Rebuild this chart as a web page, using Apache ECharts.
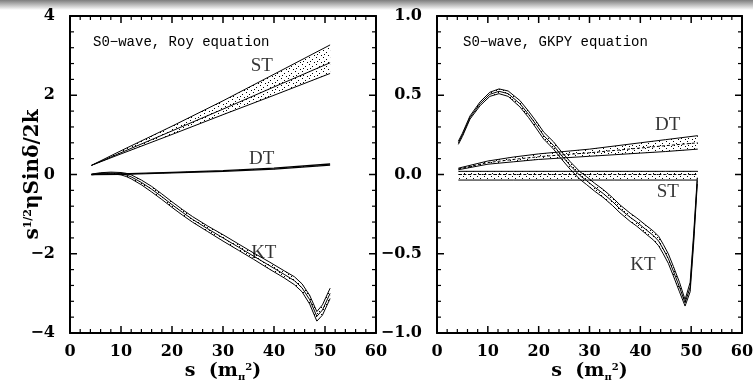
<!DOCTYPE html>
<html><head><meta charset="utf-8">
<script src="https://cdn.jsdelivr.net/npm/echarts@6/dist/echarts.min.js"></script>
<style>html,body{margin:0;padding:0;background:#fff}#c{width:753px;height:385px}</style>
</head><body><div id="c"></div>
<script>
// ---------- Left panel (Roy equation) ----------
const L_ST_s   = [4.2, 10, 20, 30, 40, 51];
const L_ST_hi  = [0.23, 0.60, 1.22, 1.86, 2.53, 3.27];
const L_ST_mid = [0.23, 0.55, 1.10, 1.65, 2.21, 2.82];
const L_ST_lo  = [0.23, 0.52, 1.01, 1.51, 2.00, 2.55];

const L_DT_s  = [4.2, 10, 15, 20, 30, 40, 51];
const L_DT_hi = [0.005, 0.015, 0.035, 0.055, 0.10, 0.16, 0.265];
const L_DT_lo = [-0.005, 0.005, 0.02, 0.04, 0.08, 0.135, 0.235];

const L_KT_s   = [4.2, 6, 8, 10, 11, 12, 14, 16, 18, 20, 22, 24, 27, 30, 33, 36, 39, 42, 44, 45.5, 47, 48.4, 49.5, 51];
const L_KT_mid = [0.0, 0.03, 0.04, 0.02, -0.01, -0.06, -0.2, -0.37, -0.56, -0.76, -0.95, -1.13, -1.37, -1.6, -1.83, -2.06, -2.29, -2.52, -2.68, -2.86, -3.16, -3.58, -3.42, -3.0];
const L_KT_hi  = [0.01, 0.045, 0.06, 0.05, 0.03, -0.01, -0.14, -0.30, -0.49, -0.69, -0.88, -1.06, -1.30, -1.52, -1.75, -1.98, -2.20, -2.43, -2.58, -2.76, -3.05, -3.46, -3.29, -2.87];
const L_KT_lo  = [-0.01, 0.015, 0.02, -0.01, -0.05, -0.11, -0.26, -0.44, -0.63, -0.83, -1.02, -1.20, -1.44, -1.68, -1.91, -2.14, -2.38, -2.61, -2.78, -2.96, -3.27, -3.70, -3.55, -3.13];

// ---------- Right panel (GKPY equation) ----------
const R_KT_s   = [4.2, 5, 6.5, 8.5, 10.4, 12.2, 14, 16.3, 18, 19.6, 21, 22.9, 24.5, 26.2, 28.1, 29.4, 31, 32.7, 34.5, 36, 38, 39.3, 41, 42.6, 43.6, 44.5, 45.5, 46.5, 47.7, 48.8, 49.8, 50.5, 51.2];
const R_KT_mid = [0.20, 0.25, 0.36, 0.447, 0.506, 0.525, 0.51, 0.447, 0.38, 0.31, 0.245, 0.184, 0.12, 0.057, -0.006, -0.038, -0.08, -0.12, -0.17, -0.217, -0.27, -0.30, -0.345, -0.386, -0.42, -0.47, -0.53, -0.61, -0.71, -0.81, -0.71, -0.40, -0.04];
const R_KT_hi  = [0.21, 0.26, 0.37, 0.459, 0.519, 0.54, 0.527, 0.467, 0.40, 0.332, 0.267, 0.207, 0.143, 0.081, 0.018, -0.013, -0.055, -0.095, -0.145, -0.192, -0.244, -0.274, -0.318, -0.358, -0.39, -0.44, -0.50, -0.58, -0.68, -0.79, -0.68, -0.37, -0.02];
const R_KT_lo  = [0.19, 0.24, 0.35, 0.435, 0.493, 0.51, 0.493, 0.427, 0.36, 0.288, 0.223, 0.161, 0.097, 0.033, -0.030, -0.063, -0.105, -0.145, -0.195, -0.242, -0.296, -0.326, -0.372, -0.414, -0.45, -0.50, -0.56, -0.64, -0.74, -0.83, -0.74, -0.43, -0.06];

const R_DT_s   = [4.2, 10, 15, 20, 25, 30, 35, 40, 45, 51.3];
const R_DT_hi  = [0.04, 0.085, 0.11, 0.13, 0.145, 0.16, 0.18, 0.20, 0.22, 0.245];
const R_DT_mid = [0.035, 0.075, 0.095, 0.112, 0.125, 0.137, 0.152, 0.167, 0.182, 0.20];
const R_DT_lo  = [0.03, 0.065, 0.08, 0.095, 0.105, 0.115, 0.125, 0.135, 0.145, 0.16];

const R_ST_s   = [4.2, 15, 25, 35, 45, 51.3];
const R_ST_hi  = [0.02, 0.02, 0.02, 0.02, 0.02, 0.02];
const R_ST_mid = [0.0, 0.0, 0.0, 0.0, 0.0, 0.0];
const R_ST_lo  = [-0.035, -0.035, -0.035, -0.035, -0.035, -0.035];

// curve labels (data coordinates)
const L_lbl_text = ['ST', 'DT', 'KT'];
const L_lbl_s    = [37.6, 37.6, 38.0];
const L_lbl_y    = [2.73, 0.38, -1.97];
const R_lbl_text = ['DT', 'ST', 'KT'];
const R_lbl_s    = [45.4, 45.4, 40.5];
const R_lbl_y    = [0.31, -0.11, -0.57];

// axes: [min, max, major interval]
const xTicks = [0, 60, 10];
const L_yTicks = [-4, 4, 2];
const R_yTicks = [-1, 1, 0.5];
const minorSplit = 5;
const panelTitles = ['S0\u2212wave, Roy equation', 'S0\u2212wave, GKPY equation'];

// ---------- build ----------
function makePattern(){
  const c = document.createElement('canvas'); c.width = 7; c.height = 7;
  const g = c.getContext('2d'); g.fillStyle = '#000';
  [[1,1],[4,3],[2,5],[6,6]].forEach(p => g.fillRect(p[0], p[1], 1, 1));
  return c;
}
const pat = makePattern();

function band(ax, s, lo, hi){
  return {
    type: 'custom', xAxisIndex: ax, yAxisIndex: ax, silent: true, animation: false, z: 1,
    data: s.map((v, i) => [v, lo[i], hi[i]]),
    renderItem: function(params, api){
      if (params.dataIndex !== 0) return;
      const pts = [];
      for (let i = 0; i < s.length; i++) pts.push(api.coord([s[i], hi[i]]));
      for (let i = s.length - 1; i >= 0; i--) pts.push(api.coord([s[i], lo[i]]));
      return {type: 'polygon', shape: {points: pts}, style: {fill: {image: pat, repeat: 'repeat'}, stroke: null}};
    }
  };
}
function line(ax, s, y, w, dash){
  return {
    type: 'line', xAxisIndex: ax, yAxisIndex: ax, silent: true, animation: false, z: 3,
    data: s.map((v, i) => [v, y[i]]), symbol: 'none', showSymbol: false,
    lineStyle: {color: '#000', width: w || 1, type: dash ? [3, 2] : 'solid'}
  };
}
function labels(ax, txt, s, y){
  return {
    type: 'scatter', xAxisIndex: ax, yAxisIndex: ax, silent: true, animation: false, z: 5,
    symbolSize: 1, itemStyle: {color: 'rgba(0,0,0,0)'},
    data: s.map((v, i) => [v, y[i]]),
    label: {show: true, position: 'inside', formatter: p => txt[p.dataIndex],
      fontFamily: 'Liberation Serif', fontSize: 19, color: '#000'}
  };
}
// inward ticks on all four frame sides, placed through the axes' own scales
function frameTicks(ax, xt, yt){
  return {
    type: 'custom', xAxisIndex: ax, yAxisIndex: ax, silent: true, animation: false, z: 10,
    data: [[xt[0], yt[0]]],
    renderItem: function(params, api){
      const ch = [];
      const add = (x1, y1, x2, y2, major) => ch.push({type: 'line', shape: {x1: x1, y1: y1, x2: x2, y2: y2},
        style: {stroke: '#000', lineWidth: major ? 1.5 : 1.2}});
      const nx = Math.round((xt[1] - xt[0]) / xt[2]) * minorSplit;
      for (let k = 0; k <= nx; k++) {
        const v = xt[0] + k * xt[2] / minorSplit, major = k % minorSplit === 0, len = major ? 7 : 4;
        const b = api.coord([v, yt[0]]), t = api.coord([v, yt[1]]);
        add(b[0], b[1], b[0], b[1] - len, major);
        add(t[0], t[1], t[0], t[1] + len, major);
      }
      const ny = Math.round((yt[1] - yt[0]) / yt[2]) * minorSplit;
      for (let k = 0; k <= ny; k++) {
        const v = yt[0] + k * yt[2] / minorSplit, major = k % minorSplit === 0, len = major ? 7 : 4;
        const l = api.coord([xt[0], v]), r = api.coord([xt[1], v]);
        add(l[0], l[1], l[0] + len, l[1], major);
        add(r[0], r[1], r[0] - len, r[1], major);
      }
      return {type: 'group', children: ch};
    }
  };
}

const tickFont = {fontFamily: 'DejaVu Serif', fontWeight: 'bold', fontSize: 16, color: '#000'};
const fmtInt = v => (v < 0 ? '\u2212' : '') + Math.abs(v);
const fmtDec = v => (v < 0 ? '\u2212' : '') + Math.abs(v).toFixed(1);

function xAx(gi, pos, show){
  return {
    type: 'value', gridIndex: gi, position: pos, min: xTicks[0], max: xTicks[1], interval: xTicks[2],
    axisLine: {show: true, onZero: false, lineStyle: {color: '#000', width: 2}},
    axisTick: {show: false}, minorTick: {show: false},
    splitLine: {show: false}, minorSplitLine: {show: false},
    axisLabel: Object.assign({show: show, margin: 11, showMinLabel: true, showMaxLabel: true}, tickFont),
    name: show ? '{b|s  (m}{sub|\u03c0}{sup|2}{b|)}' : '',
    nameLocation: 'middle', nameGap: 25, nameMoveOverlap: false,
    nameTextStyle: {color: '#000', rich: {
      b:   {fontFamily: 'DejaVu Serif', fontWeight: 'bold', fontSize: 19, lineHeight: 26, color: '#000'},
      sub: {fontFamily: 'DejaVu Serif', fontWeight: 'bold', fontSize: 10, verticalAlign: 'bottom', lineHeight: 10, color: '#000', padding: [0,0,2,0]},
      sup: {fontFamily: 'DejaVu Serif', fontWeight: 'bold', fontSize: 10, verticalAlign: 'top', lineHeight: 10, color: '#000', padding: [4,0,0,0]}
    }}
  };
}
function yAx(gi, pos, show, t, fmt, withName){
  return {
    type: 'value', gridIndex: gi, position: pos, min: t[0], max: t[1], interval: t[2],
    axisLine: {show: true, onZero: false, lineStyle: {color: '#000', width: 2}},
    axisTick: {show: false}, minorTick: {show: false},
    splitLine: {show: false}, minorSplitLine: {show: false},
    axisLabel: Object.assign({show: show, margin: 15, formatter: fmt, showMinLabel: true, showMaxLabel: true}, tickFont),
    name: withName ? '{b|s}{sup|1/2}{b|\u03b7Sin\u03b4/2k}' : '',
    nameLocation: 'middle', nameGap: 25, nameMoveOverlap: false,
    nameTextStyle: {color: '#000', rich: {
      b:   {fontFamily: 'DejaVu Serif', fontWeight: 'bold', fontSize: 20, lineHeight: 24, color: '#000'},
      sup: {fontFamily: 'DejaVu Serif', fontWeight: 'bold', fontSize: 11, verticalAlign: 'top', lineHeight: 11, color: '#000', padding: [2,0,0,0]}
    }}
  };
}

const chart = echarts.init(document.getElementById('c'), null, {renderer: 'canvas'});
chart.setOption({
  backgroundColor: '#fff',
  animation: false,
  grid: [
    {left: 70, top: 16, width: 306, height: 317, outerBoundsMode: 'none'},
    {left: 437, top: 16, width: 305, height: 317, outerBoundsMode: 'none'}
  ],
  // per grid: bottom/top x axes, left/right y axes (indices 0,1 -> grid 0; 2,3 -> grid 1)
  xAxis: [xAx(0, 'bottom', true), xAx(0, 'top', false), xAx(1, 'bottom', true), xAx(1, 'top', false)],
  yAxis: [yAx(0, 'left', true, L_yTicks, fmtInt, true), yAx(0, 'right', false, L_yTicks, fmtInt, false),
          yAx(1, 'left', true, R_yTicks, fmtDec, false), yAx(1, 'right', false, R_yTicks, fmtDec, false)],
  graphic: [
    {type: 'rect', shape: {x: 0, y: 0, width: 753, height: 10}, silent: true,
     style: {fill: new echarts.graphic.LinearGradient(0, 0, 0, 1, [{offset: 0, color: '#7d7d7d'}, {offset: 1, color: '#ffffff'}])}},
    {type: 'text', x: 93, y: 42, silent: true, style: {text: panelTitles[0], font: '14px "Liberation Mono"', fill: '#000', verticalAlign: 'middle'}},
    {type: 'text', x: 463, y: 42, silent: true, style: {text: panelTitles[1], font: '14px "Liberation Mono"', fill: '#000', verticalAlign: 'middle'}}
  ],
  series: [
    band(0, L_ST_s, L_ST_lo, L_ST_hi),
    line(0, L_ST_s, L_ST_hi), line(0, L_ST_s, L_ST_mid), line(0, L_ST_s, L_ST_lo),
    band(0, L_DT_s, L_DT_lo, L_DT_hi),
    line(0, L_DT_s, L_DT_hi, 1.3), line(0, L_DT_s, L_DT_lo, 1.3),
    band(0, L_KT_s, L_KT_lo, L_KT_hi),
    line(0, L_KT_s, L_KT_hi), line(0, L_KT_s, L_KT_mid), line(0, L_KT_s, L_KT_lo),
    labels(0, L_lbl_text, L_lbl_s, L_lbl_y),
    frameTicks(0, xTicks, L_yTicks),

    band(2, R_DT_s, R_DT_lo, R_DT_hi),
    line(2, R_DT_s, R_DT_hi), line(2, R_DT_s, R_DT_mid, 1, true), line(2, R_DT_s, R_DT_lo),
    band(2, R_ST_s, R_ST_lo, R_ST_hi),
    line(2, R_ST_s, R_ST_hi), line(2, R_ST_s, R_ST_mid, 1, true), line(2, R_ST_s, R_ST_lo),
    band(2, R_KT_s, R_KT_lo, R_KT_hi),
    line(2, R_KT_s, R_KT_hi), line(2, R_KT_s, R_KT_mid), line(2, R_KT_s, R_KT_lo),
    labels(2, R_lbl_text, R_lbl_s, R_lbl_y),
    frameTicks(2, xTicks, R_yTicks)
  ]
});
</script>
</body></html>
